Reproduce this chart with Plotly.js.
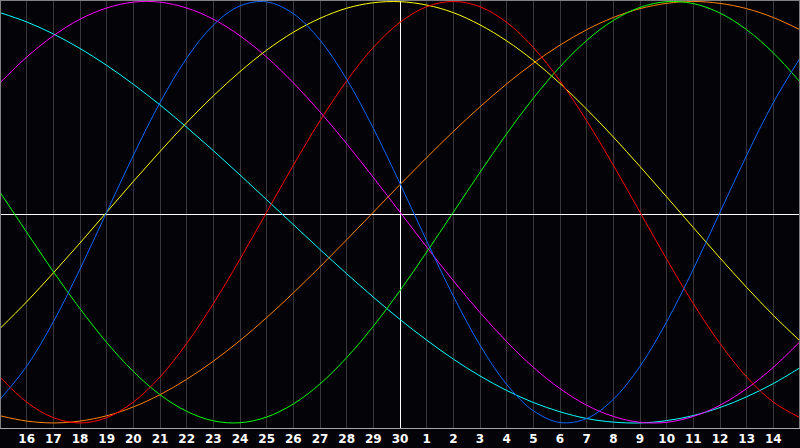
<!DOCTYPE html>
<html>
<head>
<meta charset="utf-8">
<script src="https://cdn.plot.ly/plotly-3.0.1.min.js"></script>
<style>
  html, body { margin: 0; padding: 0; background: #040408; }
  #chart { width: 800px; height: 448px; }
</style>
</head>
<body>
<div id="chart"></div>
<script>
// Day labels (15th of previous month .. 15th of this month); today = 30
const dayLabels = ['15','16','17','18','19','20','21','22','23','24','25','26','27','28','29','30',
                   '1','2','3','4','5','6','7','8','9','10','11','12','13','14','15'];

// Cycle values read at each day, range -1 .. 1
const physical = [-0.888,-0.731,-0.520,-0.270,0,0.270,0.520,0.731,0.888,0.979,0.998,0.942,0.817,0.631,0.398,0.136,
                  -0.136,-0.398,-0.631,-0.817,-0.942,-0.998,-0.979,-0.888,-0.731,-0.520,-0.270,0,0.270,0.520,0.731];
const emotional = [-0.782,-0.901,-0.975,-1,-0.975,-0.901,-0.782,-0.623,-0.434,-0.223,0,0.223,0.434,0.623,0.782,0.901,
                   0.975,1,0.975,0.901,0.782,0.623,0.434,0.223,0,-0.223,-0.434,-0.623,-0.782,-0.901,-0.975];
const intellectual = [0.095,-0.095,-0.282,-0.458,-0.618,-0.756,-0.866,-0.945,-0.990,-0.999,-0.972,-0.910,-0.815,-0.690,-0.541,-0.372,
                      -0.189,0,0.189,0.372,0.541,0.690,0.815,0.910,0.972,0.999,0.990,0.945,0.866,0.756,0.618];
const intuitive = [0.614,0.736,0.837,0.916,0.969,0.997,0.997,0.969,0.916,0.837,0.736,0.614,0.476,0.325,0.165,0,
                   -0.165,-0.325,-0.476,-0.614,-0.736,-0.837,-0.916,-0.969,-0.997,-0.997,-0.969,-0.916,-0.837,-0.736,-0.614];
const aesthetic = [-0.552,-0.425,-0.288,-0.146,0,0.146,0.288,0.425,0.552,0.667,0.769,0.854,0.920,0.968,0.994,0.999,
                   0.983,0.947,0.889,0.813,0.720,0.611,0.489,0.357,0.217,0.073,-0.073,-0.217,-0.357,-0.489,-0.611];
const awareness = [-0.966,-0.991,-1,-0.991,-0.966,-0.924,-0.866,-0.793,-0.707,-0.609,-0.5,-0.383,-0.259,-0.131,0,0.131,
                   0.259,0.383,0.5,0.609,0.707,0.793,0.866,0.924,0.966,0.991,1,0.991,0.966,0.924,0.866];
const spiritual = [0.947,0.903,0.846,0.777,0.697,0.607,0.509,0.403,0.292,0.177,0.059,-0.059,-0.177,-0.292,-0.403,-0.509,
                   -0.607,-0.697,-0.777,-0.846,-0.903,-0.947,-0.979,-0.996,-1.000,-0.989,-0.965,-0.927,-0.876,-0.813,-0.738];

const seriesList = [
  {name: 'Spiritual', values: spiritual, color: '#00ffff'},
  {name: 'Intuitive', values: intuitive, color: '#ff00ff'},
  {name: 'Awareness', values: awareness, color: '#ff8000'},
  {name: 'Aesthetic', values: aesthetic, color: '#ffff00'},
  {name: 'Intellectual', values: intellectual, color: '#00ff00'},
  {name: 'Emotional', values: emotional, color: '#ff0000'},
  {name: 'Physical', values: physical, color: '#0a64ff'}
];

const xIdx = dayLabels.map((_, i) => i);
const todayIdx = dayLabels.indexOf('30');

const plotW = 800, plotH = 428;
const yRange = [-1.024, 1.007];
const xRange = [0, xIdx.length - 1];
// half-pixel offsets so the white marker lines render crisp
const vLineX = todayIdx + 0.5 * (xRange[1] - xRange[0]) / plotW;
const hLineY = yRange[1] - 214.5 / plotH * (yRange[1] - yRange[0]);

// white "today" and zero reference lines, drawn first so they sit above the grid but under the curves
const refTraces = [
  {type: 'scatter', mode: 'lines', x: [vLineX, vLineX], y: yRange, line: {color: '#ffffff', width: 1}, hoverinfo: 'skip'},
  {type: 'scatter', mode: 'lines', x: xRange, y: [hLineY, hLineY], line: {color: '#ffffff', width: 1}, hoverinfo: 'skip'}
];

const traces = refTraces.concat(seriesList.map(s => ({
  type: 'scatter',
  mode: 'lines',
  name: s.name,
  x: xIdx,
  y: s.values,
  line: {color: s.color, width: 1, shape: 'spline', smoothing: 1},
  hoverinfo: 'skip'
})));

const tickIdx = xIdx.slice(1, xIdx.length - 1);
const tickText = dayLabels.slice(1, dayLabels.length - 1);

const layout = {
  width: 800,
  height: 448,
  margin: {l: 0, r: 0, t: 0, b: 20, pad: 0},
  paper_bgcolor: '#040408',
  plot_bgcolor: '#040408',
  showlegend: false,
  xaxis: {
    range: xRange,
    tickmode: 'array',
    tickvals: tickIdx,
    ticktext: tickText,
    showgrid: true,
    gridcolor: '#38383c',
    gridwidth: 1,
    zeroline: false,
    showline: true,
    linecolor: '#a8a8a8',
    linewidth: 1,
    ticks: '',
    tickfont: {family: 'DejaVu Sans', size: 12, color: '#ffffff', weight: 'bold'},
    fixedrange: true
  },
  yaxis: {
    range: yRange,
    showgrid: false,
    zeroline: false,
    showticklabels: false,
    showline: false,
    fixedrange: true
  },
  shapes: [
    {type: 'line', layer: 'above', xref: 'paper', yref: 'paper', x0: 0, x1: 0, y0: 0, y1: 1,
     line: {color: '#808080', width: 2}},
    {type: 'line', layer: 'above', xref: 'paper', yref: 'paper', x0: 1, x1: 1, y0: 0, y1: 1,
     line: {color: '#808080', width: 2}},
    {type: 'line', layer: 'above', xref: 'paper', yref: 'paper', x0: 0, x1: 1, y0: 1, y1: 1,
     line: {color: '#808080', width: 2}}
  ]
};

Plotly.newPlot('chart', traces, layout, {staticPlot: true, displayModeBar: false});
</script>
</body>
</html>
